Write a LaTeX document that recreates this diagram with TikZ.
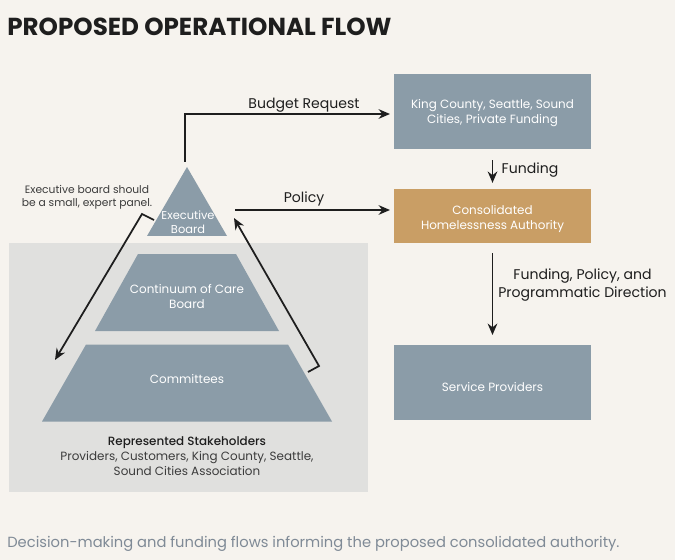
\documentclass[tikz,border=0pt]{standalone}
\usepackage{fontspec}
\setmainfont{Poppins}
\newfontfamily\mediumfont{Poppins Medium}
\usetikzlibrary{arrows.meta}
\definecolor{paper}{HTML}{F6F3EE}
\definecolor{panelgrey}{HTML}{E0E0DE}
\definecolor{slate}{HTML}{8B9CA8}
\definecolor{ochre}{HTML}{C99E65}
\definecolor{ink}{HTML}{1E1E1E}
\definecolor{soft}{HTML}{3C3C3C}
\definecolor{note}{HTML}{7F8A96}
\tikzset{
	box/.style={minimum width=3.94cm,inner sep=0pt,fill=slate},
	boxtext/.style={inner sep=0pt,align=center,text=white,font=\fontsize{6.8}{8.5}\selectfont},
	lbl/.style={inner sep=0pt,align=center,text=ink,font=\fontsize{8}{10}\selectfont},
	small/.style={inner sep=0pt,align=center,text=soft,font=\fontsize{6.1}{7.6}\selectfont},
	flow/.style={draw=ink,line width=1pt,-{Stealth[length=6.5pt,width=5.5pt]}},
}
\begin{document}
\begin{tikzpicture}[x=0.02cm,y=-0.02cm]
	\useasboundingbox[fill=paper] (0,0) rectangle (675,560);
	\fill[panelgrey] (9,243.5) rectangle (368,492);
	% pyramid
	\fill[slate] (187,167)--(227,236)--(147,236)--cycle;
	\fill[slate] (138,254)--(236,254)--(279,331)--(95,331)--cycle;
	\fill[slate] (86,344.5)--(288,344.5)--(332,421.5)--(42,421.5)--cycle;
	\node[boxtext,font=\fontsize{6.5}{7.9}\selectfont] (exec) at (188,222) {Executive\\Board};
	\node[boxtext] (coc) at (187,296.5) {Continuum of Care\\Board};
	\node[boxtext] (comm) at (187,379.5) {Committees};
	% boxes
	\node[box,minimum height=1.51cm,label={[boxtext,yshift=-0.6pt]center:King County, Seattle, Sound\\Cities, Private Funding}] (funders) at (492.5,111.75) {};
	\node[box,fill=ochre,minimum height=1.09cm,label={[boxtext,yshift=-1.7pt]center:Consolidated\\Homelessness Authority}] (cha) at (492.5,215.75) {};
	\node[box,minimum height=1.5cm,label={[boxtext,yshift=-2.3pt]center:Service Providers}] (providers) at (492.5,382.5) {};
	% free ends
	\coordinate (budgetstart) at (185,162);
	\coordinate (budgetbend) at (185,114);
	\coordinate (budgetend) at (390,114);
	\coordinate (policystart) at (235,210);
	\coordinate (policyend) at (390,210);
	\coordinate (downstart) at (154,220);
	\coordinate (downbend) at (142,214);
	\coordinate (downend) at (55,360);
	\coordinate (upstart) at (308,372);
	\coordinate (upbend) at (319,366);
	\coordinate (upend) at (234,218);
	\draw[flow] (budgetstart)--(budgetbend)--(budgetend);
	\draw[flow] (policystart)--(policyend);
	\draw[flow] (downstart)--(downbend)--(downend);
	\draw[flow] (upstart)--(upbend)--(upend);
	\draw[flow,shorten <=6pt,shorten >=3pt] (funders.south)--(cha.north);
	\draw[flow,shorten <=5.5pt,shorten >=5.5pt] (cha.south)--(providers.north);
	% labels
	\node[lbl] (budget) at (304,105) {Budget Request};
	\node[lbl] (policy) at (304,199) {Policy};
	\node[lbl] (funding) at (530,170) {Funding};
	\node[lbl] (direction) at (582.5,285) {Funding, Policy, and\\Programmatic Direction};
	\node[small] (panel) at (87,197) {Executive board should\\be a small, expert panel.};
	\node[small,font=\fontsize{6.8}{8.5}\selectfont] (stakeholders) at (187,456.5) {{\color{ink}\mediumfont Represented Stakeholders}\\Providers, Customers, King County, Seattle,\\Sound Cities Association};
	\node[anchor=west,inner sep=0pt,text=ink,font=\fontsize{14}{16}\bfseries\selectfont] (title) at (7,26.5) {PROPOSED OPERATIONAL FLOW};
	\node[anchor=west,inner sep=0pt,text=note,font=\fontsize{8.37}{10}\selectfont] (caption) at (7,543.5) {Decision-making and funding flows informing the proposed consolidated authority.};
\end{tikzpicture}
\end{document}
